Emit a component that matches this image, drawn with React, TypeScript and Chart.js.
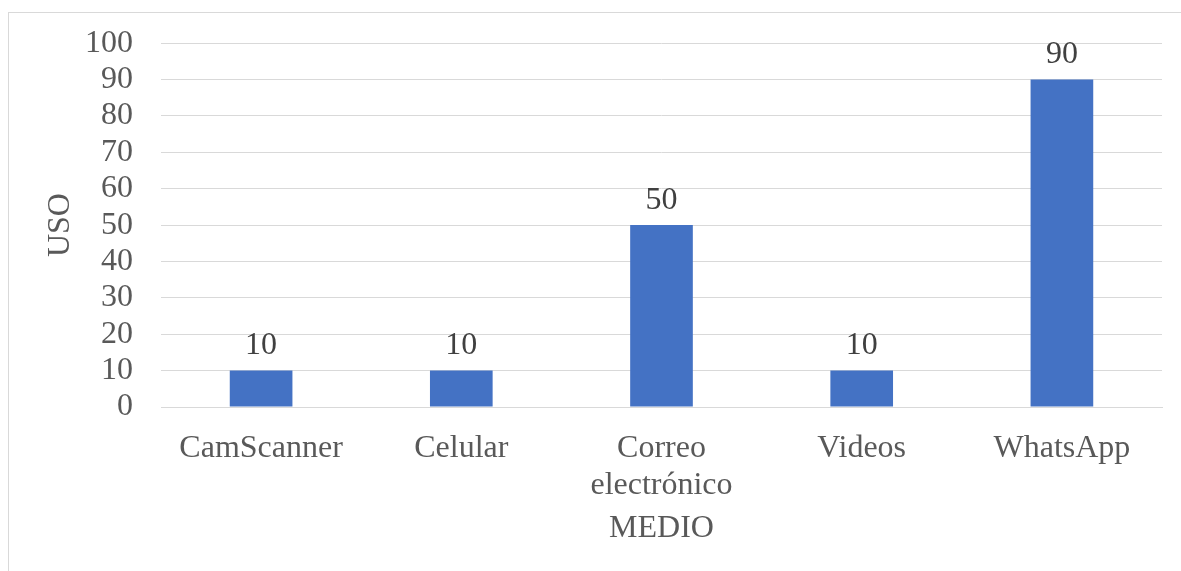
import React, { useEffect, useRef } from "react";
import { Chart, registerables } from "chart.js";

Chart.register(...registerables);

const categories: (string | string[])[] = ["CamScanner", "Celular", ["Correo", "electrónico"], "Videos", "WhatsApp"];
const usoValues: number[] = [10, 10, 50, 10, 90];
const yTicks = { min: 0, max: 100, step: 10 };
const xTitle = "MEDIO";
const yTitle = "USO";

const FONT = '"Liberation Serif", "Times New Roman", serif';

const dataLabels = {
  id: "dataLabels",
  afterDatasetsDraw(chart: any) {
    const ctx = chart.ctx;
    ctx.save();
    ctx.font = `32px ${FONT}`;
    ctx.fillStyle = "#404040";
    ctx.textAlign = "center";
    ctx.textBaseline = "middle";
    chart.data.datasets.forEach((ds: any, i: number) => {
      const meta = chart.getDatasetMeta(i);
      meta.data.forEach((bar: any, j: number) => {
        ctx.fillText(String(ds.data[j]), bar.x, bar.y - 25);
      });
    });
    ctx.restore();
  },
};

export default function App() {
  const ref = useRef<HTMLCanvasElement>(null);
  useEffect(() => {
    if (!ref.current) return;
    const chart = new Chart(ref.current, {
      type: "bar",
      data: {
        labels: categories as any,
        datasets: [
          {
            label: yTitle,
            data: usoValues,
            backgroundColor: "#4472C4",
            barPercentage: 1,
            categoryPercentage: 0.313,
          },
        ],
      },
      options: {
        responsive: false,
        animation: false,
        layout: { padding: { left: 0, right: 19, top: 13, bottom: 0 } },
        plugins: { legend: { display: false }, tooltip: { enabled: false } },
        scales: {
          x: {
            grid: { display: false, drawTicks: false },
            border: { display: true, color: "#d9d9d9", width: 1 },
            ticks: {
              color: "#595959",
              font: { family: FONT, size: 32, lineHeight: 1.15 },
              padding: 23,
              maxRotation: 0,
              autoSkip: false,
            },
            title: {
              display: true,
              text: xTitle,
              color: "#595959",
              font: { family: FONT, size: 32, lineHeight: 1.2 },
              padding: { top: 0, bottom: 23 },
            },
            afterFit(scale: any) {
              scale.height = 164;
            },
          },
          y: {
            min: yTicks.min,
            max: yTicks.max,
            grid: { color: "#d9d9d9", lineWidth: 1, drawTicks: false },
            border: { display: false },
            ticks: {
              stepSize: yTicks.step,
              autoSkip: false,
              color: "#595959",
              font: { family: FONT, size: 32, lineHeight: 1.2 },
              padding: 28,
            },
            title: {
              display: true,
              text: yTitle,
              color: "#595959",
              font: { family: FONT, size: 32, lineHeight: 1.2 },
              padding: { top: 32, bottom: 0 },
            },
            afterFit(scale: any) {
              scale.width = 152;
            },
          },
        },
      },
      plugins: [dataLabels],
    });
    return () => chart.destroy();
  }, []);
  return (
    <div
      style={{
        position: "fixed",
        left: 8,
        top: 12,
        width: 1173,
        height: 559,
        borderLeft: "1px solid #d9d9d9",
        borderTop: "1px solid #d9d9d9",
        boxSizing: "border-box",
        background: "#fff",
      }}
    >
      <canvas
        ref={ref}
        width={1172}
        height={575}
        style={{ display: "block", position: "absolute", left: 0, top: -17 }}
      />
    </div>
  );
}
